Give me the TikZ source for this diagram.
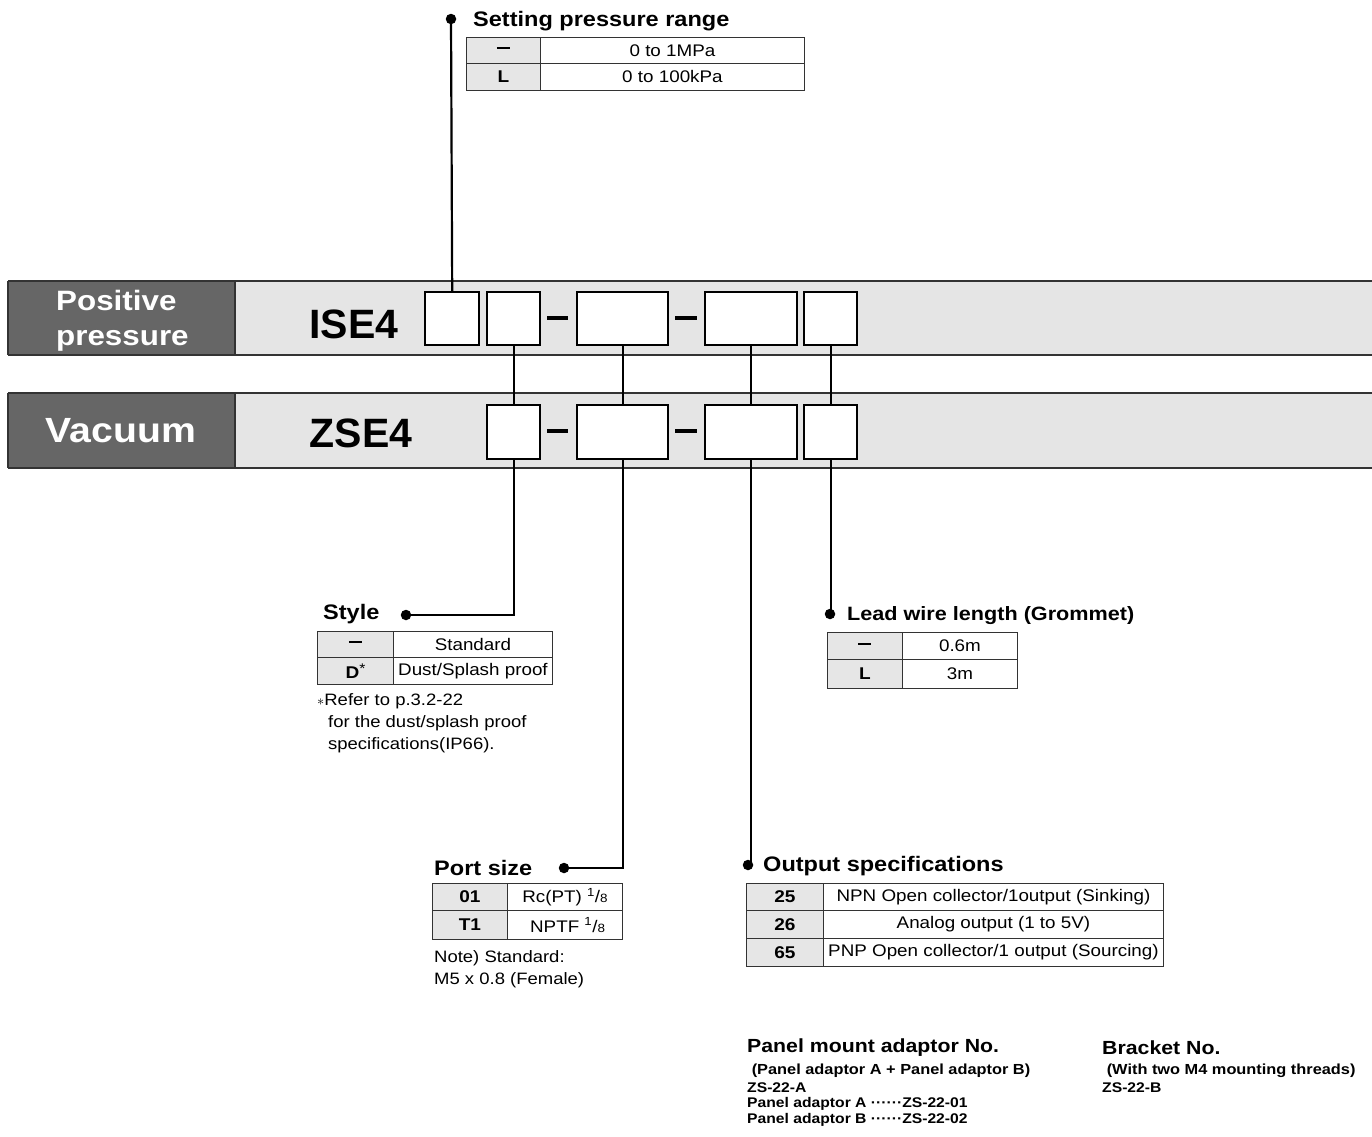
\documentclass[tikz,border=0pt]{standalone}
\usepackage{fontspec}
\setmainfont{Liberation Sans}[FakeStretch=1.12]
\newfontfamily\codefont{Liberation Sans}
\definecolor{darkbar}{HTML}{666666}
\definecolor{lightbar}{HTML}{E5E5E5}
\definecolor{keycell}{HTML}{E6E6E6}
\definecolor{rule}{HTML}{333333}
\newcommand\fsz[1]{\fontsize{#1}{#1}\selectfont}
\newcommand\cellbox[7]{\node[#1, anchor=north west, minimum width={#5-#3}, minimum height={#6-#4}] (#2) at (#3,#4) {#7};}
\newcommand\keydash{\rule[4.5pt]{13pt}{2.4pt}}
\begin{document}
\begin{tikzpicture}[x=1pt,y=-1pt,
  head/.style={font=\fsz{21}\bfseries, anchor=west, inner sep=0},
  keyc/.style={draw=rule, line width=0.9pt, fill=keycell, inner sep=0, font=\fsz{17}\bfseries},
  valc/.style={draw=rule, line width=0.9pt, fill=white, inner sep=0, font=\fsz{16.8}},
  codebox/.style={draw, line width=2.4pt, fill=white, inner sep=0, anchor=north west},
  dotn/.style={circle, fill, inner sep=0, minimum size=10.5pt},
  conn/.style={line width=2.2pt},
  notetxt/.style={font=\fsz{16.5}, anchor=west, inner sep=0},
  bighead/.style={font=\fsz{19}\bfseries, anchor=west, inner sep=0},
  smallb/.style={font=\fsz{14}\bfseries, anchor=west, inner sep=0},
  barlabel/.style={text=white, font=\bfseries, inner sep=0}]
\useasboundingbox (0,0) rectangle (1372,1136);
\fill[white] (0,0) rectangle (1372,1136);

% --- bars ---
\fill[lightbar] (235,281) rectangle (1372,355);
\fill[darkbar] (8,281) rectangle (235,355);
\fill[lightbar] (235,393) rectangle (1372,468);
\fill[darkbar] (8,393) rectangle (235,468);
\draw[rule, line width=1.2pt] (8,281) -- (1372,281) (8,355) -- (1372,355) (8,281) -- (8,355) (235,281) -- (235,355);
\draw[rule, line width=1.2pt] (8,393) -- (1372,393) (8,468) -- (1372,468) (8,393) -- (8,468) (235,393) -- (235,468);

\node[barlabel, align=left, font=\fsz{28}\bfseries, anchor=west] (pos) at (56,321) {Positive\\[7pt]pressure};
\node[barlabel, font=\fsz{35}\bfseries] (vac) at (121,431) {Vacuum};
\node[inner sep=0, font=\codefont\fsz{41}\bfseries] (ise) at (354,324) {ISE4};
\node[inner sep=0, font=\codefont\fsz{41}\bfseries] (zse) at (361,433) {ZSE4};

% --- code boxes ---
\node[codebox, minimum width=54, minimum height=53] (t1) at (424,291) {};
\node[codebox, minimum width=53, minimum height=53] (t2) at (486,291) {};
\node[codebox, minimum width=91, minimum height=53] (t3) at (576,291) {};
\node[codebox, minimum width=92, minimum height=53] (t4) at (704,291) {};
\node[codebox, minimum width=53, minimum height=53] (t5) at (803,291) {};
\node[codebox, minimum width=53, minimum height=54] (v2) at (486,404) {};
\node[codebox, minimum width=91, minimum height=54] (v3) at (576,404) {};
\node[codebox, minimum width=92, minimum height=54] (v4) at (704,404) {};
\node[codebox, minimum width=53, minimum height=54] (v5) at (803,404) {};
\draw[line width=4pt] (547,318) -- (568,318) (675,318) -- (697,318);
\draw[line width=4pt] (547,431) -- (568,431) (675,431) -- (697,431);

% --- dots ---
\node[dotn] (dsp) at (451,19) {};
\node[dotn] (dst) at (406,615) {};
\node[dotn] (dpo) at (564,868) {};
\node[dotn] (dou) at (748,865) {};
\node[dotn] (dle) at (830,614) {};

% --- connectors ---
\draw[conn] (t1.north) -- (dsp.center);
\draw[conn] (t2.south) -- (v2.north);
\draw[conn] (t3.south) -- (v3.north);
\draw[conn] (t4.south) -- (v4.north);
\draw[conn] (t5.south) -- (v5.north);
\draw[conn] (v2.south) |- (dst.center);
\draw[conn] (v3.south) |- (dpo.center);
\draw[conn] (v4.south) |- (dou.center);
\draw[conn] (v5.south) |- (dle.center);

% --- Setting pressure range ---
\node[head] (hsp) at (473,21) {Setting pressure range};
\cellbox{keyc}{sk1}{466}{37}{540}{63}{\keydash}
\cellbox{valc}{sv1}{540}{37}{804}{63}{0 to 1MPa}
\cellbox{keyc}{sk2}{466}{63}{540}{90}{L}
\cellbox{valc}{sv2}{540}{63}{804}{90}{0 to 100kPa}

% --- Style ---
\node[head] (hst) at (323,614) {Style};
\cellbox{keyc}{stk1}{317}{631}{393}{657}{\keydash}
\cellbox{valc}{stv1}{393}{631}{552}{657}{Standard}
\cellbox{keyc}{stk2}{317}{657}{393}{684}{D\raisebox{5pt}{\normalfont\fsz{14}*}}
\cellbox{valc}{stv2}{393}{657}{552}{684}{Dust/Splash proof}
\node[notetxt] (stn1) at (317,701) {{\fsz{14}$\ast$}Refer to p.3.2-22};
\node[notetxt] (stn2) at (328,723) {for the dust/splash proof};
\node[notetxt] (stn3) at (328,745) {specifications(IP66).};

% --- Lead wire ---
\node[head, font=\fsz{19.3}\bfseries] (hle) at (847,616) {Lead wire length (Grommet)};
\cellbox{keyc}{lk1}{827}{632}{902}{659}{\keydash}
\cellbox{valc}{lv1}{902}{632}{1017}{659}{0.6m}
\cellbox{keyc}{lk2}{827}{659}{902}{688}{L}
\cellbox{valc}{lv2}{902}{659}{1017}{688}{3m}

% --- Port size ---
\node[head] (hpo) at (434,868) {Port size};
\cellbox{keyc}{pk1}{432}{883}{507}{910}{01}
\cellbox{valc}{pv1}{507}{883}{622}{910}{Rc(PT) \textsuperscript{1}/{\fsz{12}8}}
\cellbox{keyc}{pk2}{432}{910}{507}{939}{T1}
\cellbox{valc}{pv2}{507}{910}{622}{939}{\ NPTF \textsuperscript{1}/{\fsz{12}8}}
\node[notetxt] (pn1) at (434,958) {Note) Standard:};
\node[notetxt] (pn2) at (434,980) {M5 x 0.8 (Female)};

% --- Output specifications ---
\node[head] (hou) at (763,866) {Output specifications};
\cellbox{keyc}{ok1}{746}{883}{823}{910}{25}
\cellbox{valc}{ov1}{823}{883}{1163}{910}{NPN Open collector/1output (Sinking)}
\cellbox{keyc}{ok2}{746}{910}{823}{938}{26}
\cellbox{valc}{ov2}{823}{910}{1163}{938}{Analog output (1 to 5V)}
\cellbox{keyc}{ok3}{746}{938}{823}{966}{65}
\cellbox{valc}{ov3}{823}{938}{1163}{966}{PNP Open collector/1 output (Sourcing)}

% --- bottom texts ---
\node[bighead] (pm1) at (747,1048) {Panel mount adaptor No.};
\node[smallb, font=\fsz{14.6}\bfseries] (pm2) at (747,1071) {\ (Panel adaptor A + Panel adaptor B)};
\node[smallb] (pm3) at (747,1088) {ZS-22-A};
\node[smallb] (pm4) at (747,1104) {Panel adaptor A ······ZS-22-01};
\node[smallb] (pm5) at (747,1120) {Panel adaptor B ······ZS-22-02};
\node[bighead] (br1) at (1102,1048) {Bracket No.};
\node[smallb, font=\fsz{14.6}\bfseries] (br2) at (1102,1071) {\ (With two M4 mounting threads)};
\node[smallb] (br3) at (1102,1088) {ZS-22-B};
\end{tikzpicture}
\end{document}
